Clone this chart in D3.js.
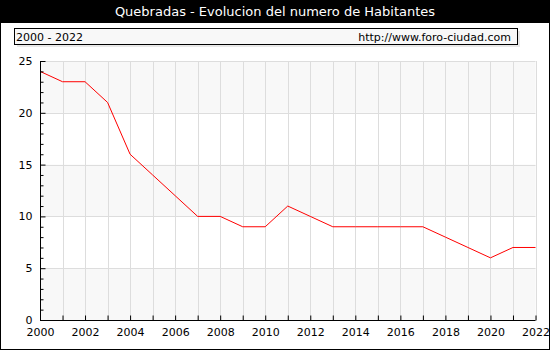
<!DOCTYPE html>
<meta charset="utf-8">
<head>
  <title>Quebradas - Evolucion del numero de Habitantes</title>
</head>

<style>
body { margin: 0; }
text {
  font-family: "DejaVu Sans", Verdana, sans-serif;
}
</style>

<body>
  <svg width="550" height="350"></svg>

  <script src="https://cdnjs.cloudflare.com/ajax/libs/d3/7.8.5/d3.min.js"></script>
  <script>
var years = [2000, 2001, 2002, 2003, 2004, 2005, 2006, 2007, 2008, 2009, 2010, 2011,
             2012, 2013, 2014, 2015, 2016, 2017, 2018, 2019, 2020, 2021, 2022];
var habitantes = [24, 23, 23, 21, 16, 14, 12, 10, 10, 9, 9, 11,
                  10, 9, 9, 9, 9, 9, 8, 7, 6, 7, 7];
var yTicks = [0, 5, 10, 15, 20, 25];
var xTicks = [2000, 2002, 2004, 2006, 2008, 2010, 2012, 2014, 2016, 2018, 2020, 2022];

var svg = d3.select('svg');

var pLeft = 40, pRight = 535.5, pTop = 61, pBottom = 320;

var x = d3.scaleLinear().domain([2000, 2022]).range([pLeft, pRight]);
var y = d3.scaleLinear().domain([0, 25]).range([pBottom, pTop]);

// fondo y marco
svg.append('rect')
  .attr('x', 0.5).attr('y', 0.5)
  .attr('width', 549).attr('height', 349)
  .attr('fill', 'white').attr('stroke', 'black');

// barra de titulo
svg.append('rect')
  .attr('x', 0).attr('y', 0)
  .attr('width', 550).attr('height', 23)
  .attr('fill', 'black');

svg.append('text')
  .attr('x', 275).attr('y', 16)
  .attr('text-anchor', 'middle')
  .attr('fill', 'white')
  .style('font-size', '13px')
  .text('Quebradas - Evolucion del numero de Habitantes');

// caja de periodo
svg.append('rect')
  .attr('x', 17).attr('y', 31)
  .attr('width', 503).attr('height', 16)
  .attr('fill', '#e8e8e8');
svg.append('rect')
  .attr('x', 14.5).attr('y', 28.5)
  .attr('width', 503).attr('height', 16)
  .attr('fill', '#f8f8f8').attr('stroke', 'black');

svg.append('text')
  .attr('x', 16).attr('y', 41)
  .style('font-size', '11px')
  .text('2000 - 2022');
svg.append('text')
  .attr('x', 511).attr('y', 41)
  .attr('text-anchor', 'end')
  .style('font-size', '11px')
  .text('http://www.foro-ciudad.com');

// bandas alternas
var bands = [0, 10, 20];
svg.selectAll('rect.band')
  .data(bands)
  .enter()
  .append('rect')
  .attr('class', 'band')
  .attr('x', pLeft)
  .attr('y', function(d) { return y(d + 5); })
  .attr('width', pRight - pLeft)
  .attr('height', function(d) { return y(d) - y(d + 5); })
  .attr('fill', '#f8f8f8');

// rejilla
svg.selectAll('line.vgrid')
  .data(years.slice(1))
  .enter()
  .append('line')
  .attr('class', 'vgrid')
  .attr('x1', function(d) { return Math.round(x(d)) + 0.5; })
  .attr('x2', function(d) { return Math.round(x(d)) + 0.5; })
  .attr('y1', pTop).attr('y2', pBottom)
  .attr('stroke', '#dddddd');

svg.selectAll('line.hgrid')
  .data(yTicks.slice(1))
  .enter()
  .append('line')
  .attr('class', 'hgrid')
  .attr('x1', pLeft).attr('x2', pRight)
  .attr('y1', function(d) { return Math.round(y(d)) + 0.5; })
  .attr('y2', function(d) { return Math.round(y(d)) + 0.5; })
  .attr('stroke', '#dddddd');

// linea
var line = d3.line()
  .x(function(d, i) { return x(years[i]); })
  .y(function(d) { return y(d); });

svg.append('path')
  .datum(habitantes)
  .attr('d', line)
  .attr('fill', 'none')
  .attr('stroke', 'red')
  .attr('stroke-width', 1);

// ejes
var xAxis = d3.axisBottom(x)
  .tickValues(years)
  .tickSize(-5)
  .tickFormat(function(d) { return xTicks.indexOf(d) >= 0 ? d : ''; });

var gx = svg.append('g')
  .attr('transform', 'translate(0,' + (pBottom + 0.5) + ')')
  .call(xAxis);
gx.select('.domain').attr('d', 'M' + pLeft + ',0H' + pRight);
gx.selectAll('text')
  .attr('y', 8)
  .attr('dy', '0.71em')
  .style('font-size', '11px')
  .attr('fill', 'black');

var yAxis = d3.axisLeft(y)
  .tickValues(d3.range(0, 26))
  .tickSize(-3)
  .tickFormat(function(d) { return yTicks.indexOf(d) >= 0 ? d : ''; });

var gy = svg.append('g')
  .attr('transform', 'translate(' + (pLeft + 0.5) + ',0)')
  .call(yAxis);
gy.select('.domain').attr('d', 'M0,' + pTop + 'V' + pBottom);
gy.selectAll('.tick line')
  .attr('x2', function(d) { return d % 5 === 0 ? 5 : 3; });
gy.selectAll('text')
  .attr('x', -8)
  .style('font-size', '11px')
  .attr('fill', 'black');
  </script>
</body>
</html>
